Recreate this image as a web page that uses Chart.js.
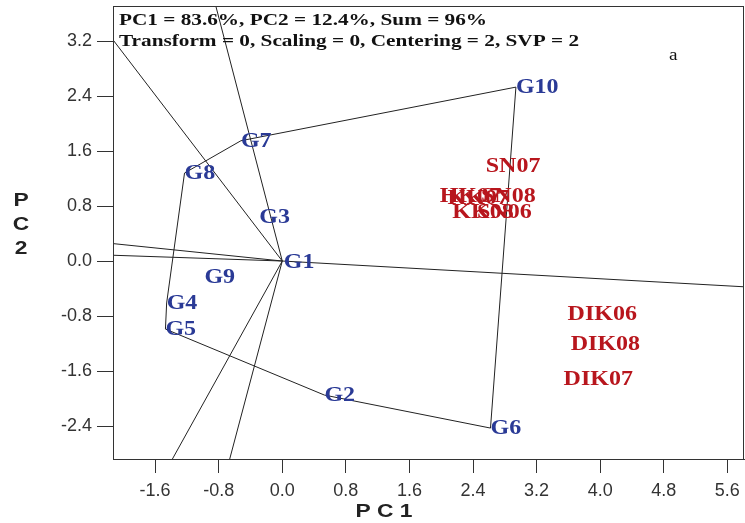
<!DOCTYPE html>
<html>
<head>
<meta charset="utf-8">
<script src="https://cdn.jsdelivr.net/npm/chart.js@4.4.1/dist/chart.umd.min.js"></script>
<style>
  body { margin: 0; background: #fff; }
  #c { display: block; }
</style>
</head>
<body>
<canvas id="c" width="745" height="523"></canvas>
<script>
// genotype scores (PC1, PC2)
const genoNames = ['G1', 'G2', 'G3', 'G4', 'G5', 'G6', 'G7', 'G8', 'G9', 'G10'];
const genoPC1 = [0.02, 0.53, -0.29, -1.455, -1.47, 2.62, -0.52, -1.23, -0.98, 2.94];
const genoPC2 = [-0.01, -1.95, 0.64, -0.61, -0.99, -2.43, 1.75, 1.28, -0.23, 2.53];

// environment scores
const envNames = ['SN07', 'HK07', 'KK07', 'SN08', 'KK08', 'SN06', 'DIK06', 'DIK08', 'DIK07'];
const envPC1 = [2.56, 1.98, 2.08, 2.50, 2.14, 2.45, 3.59, 3.63, 3.54];
const envPC2 = [1.38, 0.95, 0.92, 0.95, 0.71, 0.72, -0.77, -1.21, -1.71];

// polygon (which-won-where) vertices in drawing order
const hullOrder = ['G10', 'G6', 'G2', 'G5', 'G4', 'G8', 'G7'];

const xTicks = [-1.6, -0.8, 0.0, 0.8, 1.6, 2.4, 3.2, 4.0, 4.8, 5.6];
const yTicks = [-2.4, -1.6, -0.8, 0.0, 0.8, 1.6, 2.4, 3.2];
const xLimits = [-2.13, 5.81];
const yLimits = [-2.88, 3.71];

const infoLines = ['PC1 = 83.6%, PC2 = 12.4%, Sum = 96%', 'Transform = 0, Scaling = 0, Centering = 2, SVP = 2'];

const BLUE = '#2a3a96';
const RED = '#b8161d';
const SERIF = '"Liberation Serif", "Times New Roman", serif';
const SANS = '"Liberation Sans", Arial, sans-serif';

function genoPoint(name) {
  let i = genoNames.indexOf(name);
  return {x: genoPC1[i], y: genoPC2[i]};
}

let hullData = hullOrder.map(genoPoint);
hullData.push(genoPoint(hullOrder[0]));

// rays from the origin, perpendicular to each polygon side, out to the plot border
let rays = [];
for (let i = 0; i < hullOrder.length; i++) {
  let a = genoPoint(hullOrder[i]);
  let b = genoPoint(hullOrder[(i + 1) % hullOrder.length]);
  let nx = b.y - a.y, ny = -(b.x - a.x);
  if (nx * a.x + ny * a.y < 0) { nx = -nx; ny = -ny; }
  let t = Infinity;
  if (nx > 0) t = Math.min(t, xLimits[1] / nx);
  if (nx < 0) t = Math.min(t, xLimits[0] / nx);
  if (ny > 0) t = Math.min(t, yLimits[1] / ny);
  if (ny < 0) t = Math.min(t, yLimits[0] / ny);
  rays.push([{x: 0, y: 0}, {x: nx * t, y: ny * t}]);
}

let datasets = [];
datasets.push({type: 'line', label: 'hull', data: hullData, borderColor: '#222', borderWidth: 1,
  pointRadius: 0, fill: false, tension: 0});
rays.forEach(function (r, i) {
  datasets.push({type: 'line', label: 'ray' + i, data: r, borderColor: '#222', borderWidth: 1,
    pointRadius: 0, fill: false, tension: 0});
});
datasets.push({type: 'scatter', label: 'geno', names: genoNames, color: BLUE,
  data: genoNames.map(function (n, i) { return {x: genoPC1[i], y: genoPC2[i]}; }), pointRadius: 0});
datasets.push({type: 'scatter', label: 'env', names: envNames, color: RED,
  data: envNames.map(function (n, i) { return {x: envPC1[i], y: envPC2[i]}; }), pointRadius: 0});

function stretchText(ctx, txt, x, y, sx) {
  ctx.save();
  ctx.translate(x, y);
  ctx.scale(sx, 1);
  ctx.fillText(txt, 0, 0);
  ctx.restore();
}

const biplotDecor = {
  id: 'biplotDecor',
  afterDatasetsDraw(chart) {
    const ctx = chart.ctx;
    const area = chart.chartArea;
    const xs = chart.scales.x, ys = chart.scales.y;

    // box round the plot
    ctx.save();
    ctx.strokeStyle = '#333';
    ctx.lineWidth = 1;
    ctx.strokeRect(Math.round(area.left) + 0.5, Math.round(area.top) + 0.5,
      Math.round(area.right - area.left) - 1, Math.round(area.bottom - area.top));
    ctx.restore();

    // point labels
    chart.data.datasets.forEach(function (ds) {
      if (!ds.names) return;
      ctx.save();
      ctx.font = 'bold 20px ' + SERIF;
      ctx.fillStyle = ds.color;
      ctx.textAlign = 'left';
      ctx.textBaseline = 'middle';
      ds.data.forEach(function (p, i) {
        stretchText(ctx, ds.names[i], xs.getPixelForValue(p.x), ys.getPixelForValue(p.y) + 1, 1.2);
      });
      ctx.restore();
    });

    // info text
    ctx.save();
    ctx.font = 'bold 17px ' + SERIF;
    ctx.fillStyle = '#111';
    ctx.textAlign = 'left';
    ctx.textBaseline = 'middle';
    stretchText(ctx, infoLines[0], area.left + 6, area.top + 15, 1.25);
    stretchText(ctx, infoLines[1], area.left + 6, area.top + 36, 1.25);
    ctx.font = '16px ' + SERIF;
    stretchText(ctx, 'a', 669, 56, 1.2);
    ctx.restore();

    // axis titles
    ctx.save();
    ctx.font = 'bold 19px ' + SANS;
    ctx.fillStyle = '#222';
    ctx.textAlign = 'center';
    ctx.textBaseline = 'middle';
    stretchText(ctx, 'P C 1', 384, 512, 1.2);
    ['P', 'C', '2'].forEach(function (ch, i) {
      stretchText(ctx, ch, 21, 201 + i * 24, 1.2);
    });
    ctx.restore();
  }
};

new Chart(document.getElementById('c'), {
  data: {datasets: datasets},
  options: {
    responsive: false,
    animation: false,
    layout: {padding: {top: 6, right: 1, left: 0, bottom: 0}},
    plugins: {legend: {display: false}, tooltip: {enabled: false}, title: {display: false}},
    scales: {
      x: {
        type: 'linear',
        min: xLimits[0],
        max: xLimits[1],
        afterBuildTicks: function (s) { s.ticks = xTicks.map(function (v) { return {value: v}; }); },
        afterFit: function (s) { s.height = 64; s.paddingLeft = 0; s.paddingRight = 0; },
        grid: {drawOnChartArea: false, drawTicks: true, tickLength: 14, color: '#333', lineWidth: 1},
        border: {display: true, color: '#333'},
        ticks: {
          padding: 7,
          color: '#333',
          font: {family: SANS, size: 18},
          maxRotation: 0,
          callback: function (v) { return Number(v).toFixed(1); }
        }
      },
      y: {
        type: 'linear',
        min: yLimits[0],
        max: yLimits[1],
        afterBuildTicks: function (s) { s.ticks = yTicks.map(function (v) { return {value: v}; }); },
        afterFit: function (s) { s.width = 113; s.paddingTop = 0; s.paddingBottom = 0; },
        grid: {drawOnChartArea: false, drawTicks: true, tickLength: 16, color: '#333', lineWidth: 1},
        border: {display: true, color: '#333'},
        ticks: {
          padding: 5,
          color: '#333',
          font: {family: SANS, size: 18},
          callback: function (v) { return Number(v).toFixed(1); }
        }
      }
    }
  },
  plugins: [biplotDecor]
});
</script>
</body>
</html>
